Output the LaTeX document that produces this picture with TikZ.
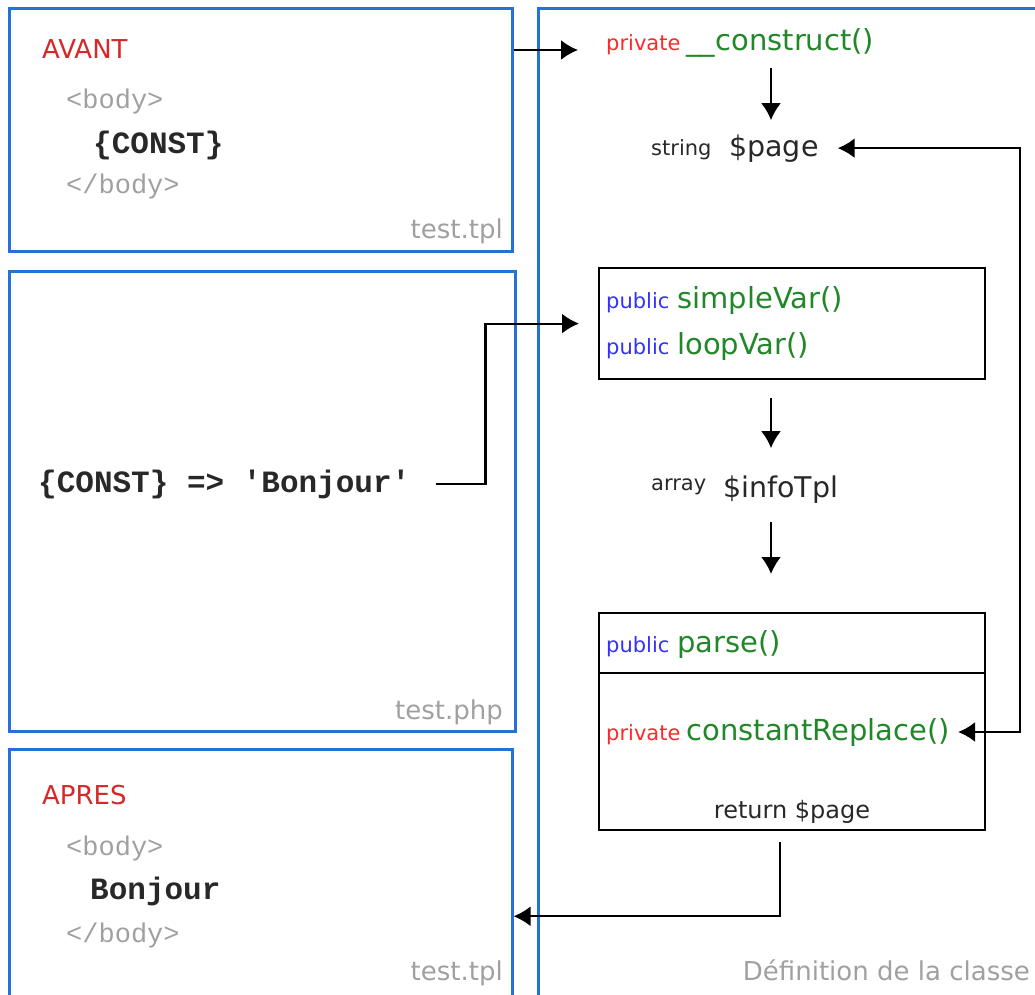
\documentclass[tikz,border=0pt]{standalone}
\usepackage{fontspec}
\setmainfont{DejaVu Sans}
\newfontfamily\codefont{Liberation Mono}
\usetikzlibrary{arrows.meta,positioning}

\definecolor{boxblue}{RGB}{35,115,215}
\definecolor{titred}{RGB}{214,40,40}
\definecolor{privred}{RGB}{255,40,40}
\definecolor{pubblue}{RGB}{50,50,255}
\definecolor{methgreen}{RGB}{34,135,40}
\definecolor{lightgray}{RGB}{160,160,160}
\definecolor{darktxt}{RGB}{40,40,40}

\newcommand{\px}[1]{\fontsize{#1}{#1}\selectfont}
\newcommand{\kw}[2]{{\px{21}\color{#1}#2}}
\newcommand{\meth}[1]{{\px{29}\color{methgreen}#1}}
\newcommand{\code}[2]{{\codefont\px{#1}#2}}

\tikzset{
  filebox/.style={draw=boxblue, line width=2.5pt, anchor=north west, inner sep=0pt},
  methbox/.style={draw=black, line width=2.2pt, anchor=north west, inner sep=0pt},
  txt/.style={inner sep=0pt, anchor=base west},
  rtxt/.style={inner sep=0pt, anchor=base east},
  >={Latex[length=17pt,width=20pt]},
  flow/.style={line width=2.2pt, ->},
  backflow/.style={line width=2.2pt, <->},
}

\begin{document}
\begin{tikzpicture}[x=1pt,y=-1pt]
  \useasboundingbox (0,0) rectangle (1035,994);
  \clip (0,0) rectangle (1035,994);

  % files
  \node[filebox, minimum width=503, minimum height=243] (avant) at (8,7) {};
  \node[filebox, minimum width=506, minimum height=460] (php) at (8,270) {};
  \node[filebox, minimum width=503, minimum height=260] (apres) at (8,748) {};
  \node[filebox, minimum width=520, minimum height=1000] (classbox) at (537,7) {};

  \node[txt] (avantlbl) at (42,58) {\px{26}\color{titred}AVANT};
  \node[txt] (bodyA) at (66,108) {\code{27}{\color{lightgray}<body>}};
  \node[txt] (constA) at (93,153) {\code{31}{\bfseries\color{darktxt}\{CONST\}}};
  \node[txt] (bodyAend) at (66,193) {\code{27}{\color{lightgray}</body>}};
  \node[rtxt] (tplA) at (503,238) {\px{26}\color{lightgray}test.tpl};

  \node[txt] (bonj) at (38,492) {\code{31}{\bfseries\color{darktxt}\{CONST\} => \textquotesingle Bonjour\textquotesingle}};
  \node[rtxt] (phplbl) at (503,719) {\px{26}\color{lightgray}test.php};

  \node[txt] (apreslbl) at (42,804) {\px{26}\color{titred}APRES};
  \node[txt] (bodyB) at (66,855) {\code{27}{\color{lightgray}<body>}};
  \node[txt] (bonjB) at (90,899) {\code{31}{\bfseries\color{darktxt}Bonjour}};
  \node[txt] (bodyBend) at (66,942) {\code{27}{\color{lightgray}</body>}};
  \node[rtxt] (tplB) at (503,980) {\px{26}\color{lightgray}test.tpl};

  % class
  \node[txt] (ctor) at (606,50) {\kw{privred}{private}\hspace{6pt}\meth{\_\_construct()}};
  \node[txt] (strg) at (651,155) {\kw{darktxt}{string}};
  \node[txt] (page) at (729,156) {\px{28.5}\color{darktxt}\$page};

  \node[methbox, minimum width=386, minimum height=111] (simple) at (598,267) {};
  \node[txt] (sv) at (606,308) {\kw{pubblue}{public}\hspace{8pt}\meth{simpleVar()}};
  \node[txt] (lv) at (606,354) {\kw{pubblue}{public}\hspace{8pt}\meth{loopVar()}};

  \node[txt] (arr) at (651,490) {\kw{darktxt}{array}};
  \node[txt] (info) at (723,497) {\px{28.5}\color{darktxt}\$infoTpl};

  \node[methbox, minimum width=386, minimum height=217] (parse) at (598,612) {};
  \draw[line width=2.2pt] (parse.west |- 0,673) -- (parse.east |- 0,673);
  \node[txt] (prs) at (606,652) {\kw{pubblue}{public}\hspace{8pt}\meth{parse()}};
  \node[txt] (cr) at (606,740) {\kw{privred}{private}\hspace{6pt}\meth{constantReplace()}};
  \node[inner sep=0pt, anchor=base] (ret) at (792,818) {\px{24}\color{darktxt}return \$page};

  \node[rtxt] (defn) at (1030,980) {\px{26}\color{lightgray}Définition de la classe};

  % connectors
  \coordinate (spine) at (771,0);
  \draw[flow] (avant.east |- ctor.base) -- ([xshift=-28pt]ctor.base west);
  \draw[flow, shorten <=11pt, shorten >=14pt] (spine |- ctor.south) -- (spine |- page.north);
  \draw[backflow] ([xshift=19pt]page.east) -| ([xshift=70pt]cr.east) -- ([xshift=8pt]cr.east);
  \draw[flow] ([xshift=26pt]bonj.east) -- ([xshift=75pt]bonj.east) |- ([xshift=-19pt]simple.west);
  \draw[flow, shorten <=18pt, shorten >=27pt] (spine |- simple.south) -- (spine |- info.north);
  \draw[flow, shorten <=19pt, shorten >=38pt] (spine |- info.south) -- (spine |- parse.north);
  \draw[flow] ([xshift=-12pt,yshift=-11pt]parse.south) |- ([yshift=-37pt]apres.east);
\end{tikzpicture}
\end{document}
